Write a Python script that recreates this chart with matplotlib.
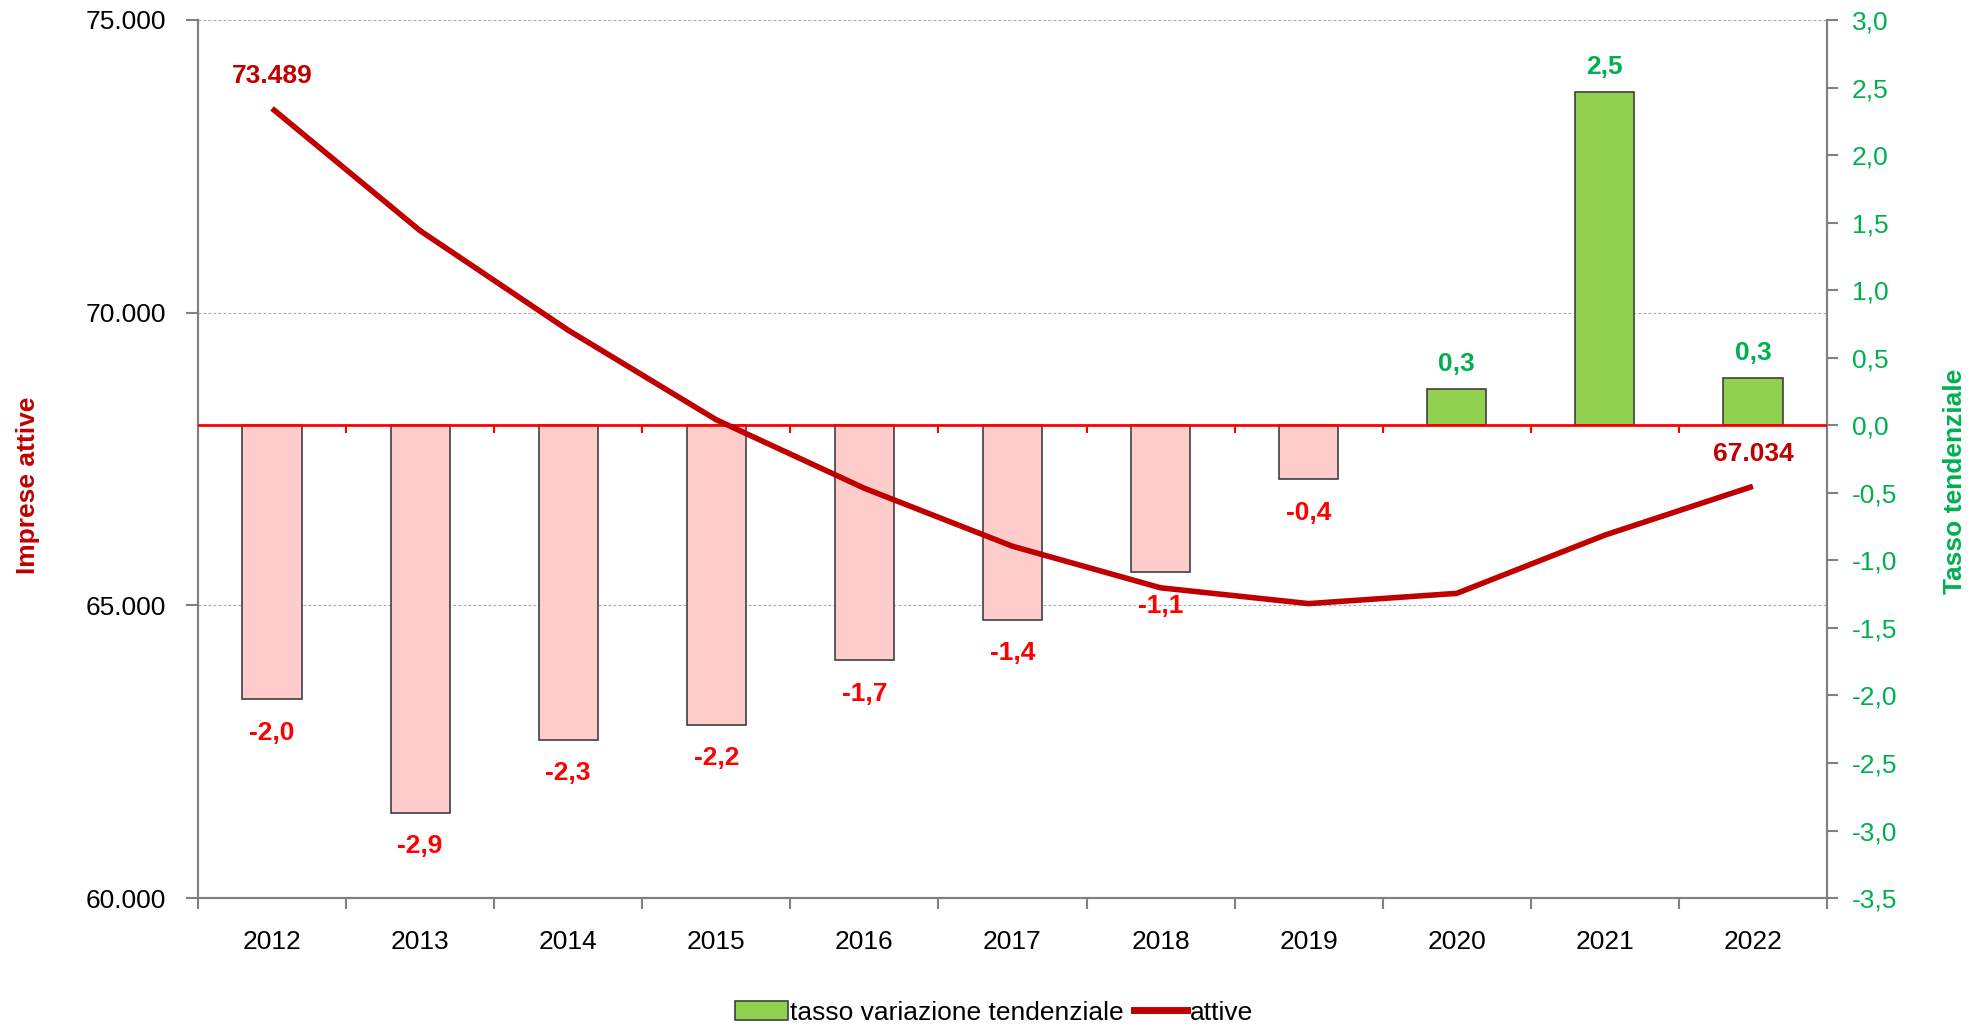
import numpy as np
import matplotlib.pyplot as plt
from matplotlib.patches import Patch
from matplotlib.lines import Line2D
from matplotlib.ticker import FuncFormatter, MultipleLocator

plt.rcParams['font.family'] = ['Liberation Sans', 'DejaVu Sans']

years = ["2012", "2013", "2014", "2015", "2016", "2017", "2018", "2019", "2020", "2021", "2022"]
attive = [73489, 71400, 69700, 68170, 67000, 66010, 65300, 65030, 65205, 66200, 67034]
tasso = [-2.03, -2.87, -2.33, -2.22, -1.74, -1.44, -1.09, -0.40, 0.27, 2.47, 0.35]
tassoLabel = ["-2,0", "-2,9", "-2,3", "-2,2", "-1,7", "-1,4", "-1,1", "-0,4", "0,3", "2,5", "0,3"]
attiveLabel = {0: "73.489", 10: "67.034"}

dark_red = "#C00000"
red = "#FF0000"
green = "#00B050"
bar_green = "#92D050"
bar_pink = "#FFCCCC"
grey = "#808080"

x = np.arange(len(years))

fig = plt.figure(figsize=(19.8, 10.24), dpi=100)
ax = fig.add_axes([0.1, 0.123, 0.8227, 0.8575])
ax2 = ax.twinx()

# left scale: grid only, sits at the back
ax.set_ylim(60000, 75000)
ax.set_xlim(-0.5, len(years) - 0.5)
ax.yaxis.set_major_locator(MultipleLocator(5000))
ax.yaxis.set_major_formatter(FuncFormatter(lambda v, p: f"{int(v):,}".replace(",", ".")))
ax.grid(axis="y", color="#A8A8A8", ls=(0, (2.5, 2)), lw=0.8)
ax.tick_params(axis="y", labelsize=19, length=9, width=1.5, color=grey, pad=14)
ax.set_xticks(x)
ax.set_xticklabels(years)
ax.set_xticks(np.arange(-0.5, len(years)), minor=True)
ax.tick_params(axis="x", which="major", length=0, labelsize=19, pad=23)
ax.tick_params(axis="x", which="minor", length=8, width=1.5, color=grey)

# right scale: bars
ax2.set_ylim(-3.5, 3.0)
ax2.yaxis.set_major_locator(MultipleLocator(0.5))
ax2.yaxis.set_major_formatter(FuncFormatter(lambda v, p: f"{v:.1f}".replace(".", ",")))
ax2.tick_params(axis="y", labelsize=19, length=8, width=1.5, color=grey, labelcolor=green, pad=10)

colors = [bar_green if t > 0 else bar_pink for t in tasso]
ax2.bar(x, tasso, width=0.4, color=colors, edgecolor="#404040", lw=1.2, zorder=2)
ax2.axhline(0, color=red, lw=2, zorder=3)
ax2.vlines(np.arange(0.5, len(years) - 1), -0.06, 0, color=red, lw=1.5, zorder=3)

for i, (t, lab) in enumerate(zip(tasso, tassoLabel)):
    if t < 0:
        ax2.annotate(lab, (x[i], t), xytext=(0, -24), textcoords="offset points",
                     ha="center", va="center", fontsize=19, fontweight="bold", color=red)
    else:
        ax2.annotate(lab, (x[i], t), xytext=(0, 18), textcoords="offset points",
                     ha="center", va="center", fontsize=19, fontweight="bold", color=green)

# line on left scale, drawn above the bars
ax2.plot(x, attive, transform=ax.transData, color=dark_red, lw=4, zorder=5,
         solid_capstyle="butt")
for i, lab in attiveLabel.items():
    ax2.annotate(lab, (x[i], attive[i]), xycoords=ax.transData, xytext=(0, 23),
                 textcoords="offset points", ha="center", va="center",
                 fontsize=19, fontweight="bold", color=dark_red)

for a in (ax, ax2):
    a.spines["top"].set_visible(False)
    for s in ("left", "right", "bottom"):
        a.spines[s].set_color(grey)
        a.spines[s].set_linewidth(1.5)

ax.set_ylabel("Imprese attive", fontsize=19, fontweight="bold", color=dark_red)
ax.yaxis.set_label_coords(-0.097, 0.47)
ax2.set_ylabel("Tasso tendenziale", fontsize=19, fontweight="bold", color=green, rotation=90)
ax2.yaxis.set_label_coords(1.071, 0.475)

handles = [Patch(facecolor=bar_green, edgecolor="#404040", lw=1.2),
           Line2D([], [], color=dark_red, lw=5)]
fig.legend(handles, ["tasso variazione tendenziale", "attive"], loc="center",
           bbox_to_anchor=(0.502, 0.011), ncol=2, frameon=False, fontsize=19,
           handlelength=2.0, handletextpad=0.1, columnspacing=0.4)

fig.savefig("out.png", dpi=100)
